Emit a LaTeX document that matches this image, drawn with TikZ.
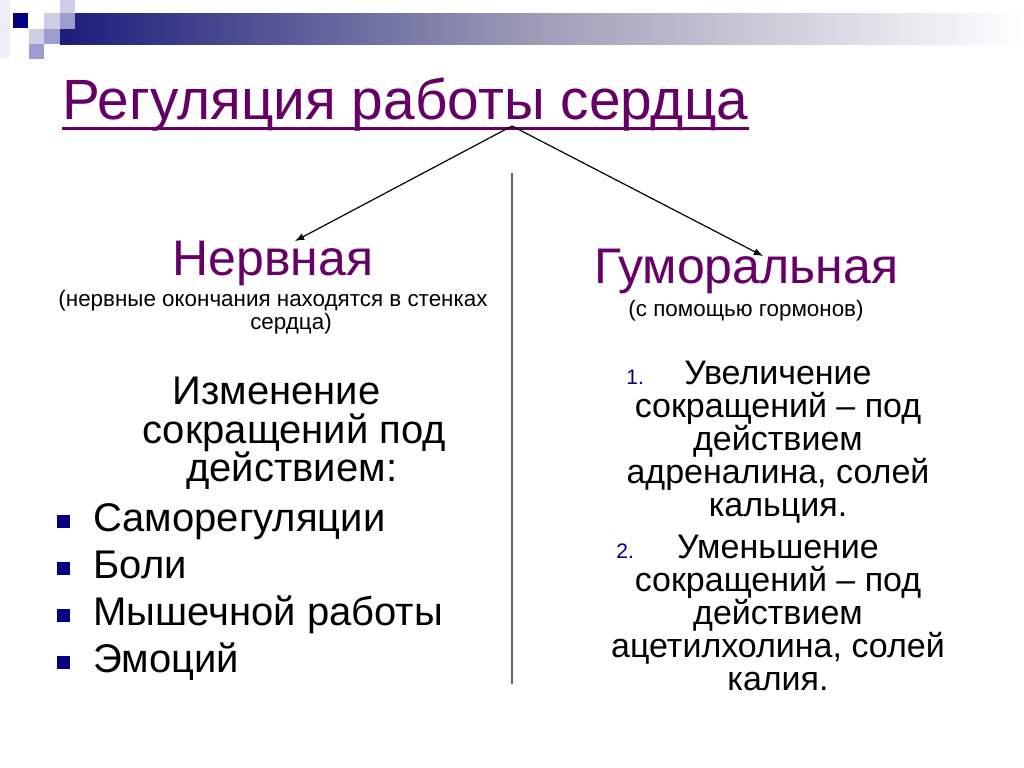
\documentclass[tikz,border=0pt]{standalone}
\usepackage{fontspec}
\setmainfont{Liberation Sans}
\usepackage{xcolor}
\usetikzlibrary{positioning}

\definecolor{titlepurple}{HTML}{660066}
\definecolor{bulletnavy}{HTML}{000080}
\definecolor{barnavy}{HTML}{1C1C7C}
\definecolor{barmid}{HTML}{9E9EB8}
\definecolor{lilaclight}{HTML}{CDCDE8}
\definecolor{lilacmid}{HTML}{9C9CCE}
\definecolor{lilacfaint}{HTML}{EEEEF7}
\definecolor{rulegrey}{HTML}{666666}

\begin{document}
\begin{tikzpicture}[x=0.5pt,y=-0.5pt,
  every node/.style={inner sep=0pt},
  heading/.style={text=titlepurple,font=\fontsize{25}{30}\selectfont},
  note/.style={font=\fontsize{11.2}{11}\selectfont},
  body/.style={font=\fontsize{20}{19.5}\selectfont},
  numbody/.style={font=\fontsize{17}{16.5}\selectfont,align=center},
  numlabel/.style={text=bulletnavy,font=\fontsize{10.5}{12}\selectfont},
  bulletsq/.style={fill=bulletnavy,minimum size=6.5pt}]
\useasboundingbox (0,0) rectangle (1024,767);

% header strip
\fill[lilacfaint] (0,0) rectangle (10,58);
\shade[left color=barnavy,right color=white,middle color=barmid] (60,13) rectangle (1024,44);
\fill[bulletnavy] (13,13) rectangle (28,28);
\fill[lilaclight] (44,13) rectangle (60,29);
\fill[lilaclight] (60,0) rectangle (75,13);
\fill[lilacmid] (60,13) rectangle (75,29);
\fill[lilaclight] (29,29) rectangle (44,44);
\fill[lilacmid] (44,29) rectangle (60,44);
\fill[lilacmid] (29,44) rectangle (44,59);

% title
\node[anchor=base west,text=titlepurple,font=\fontsize{28.4}{32}\selectfont]
  (title) at (62,119) {Регуляция работы сердца};
\draw[titlepurple,line width=1.5pt] ([yshift=-4.5pt]title.base west) -- ([yshift=-4.5pt]title.base east);

% split and divider
\coordinate (split) at (512,126);
\draw[rulegrey,line width=1pt] (512,173) -- (512,684);

% left column
\node[heading,anchor=base west] (nerve) at (172,275) {Нервная};
\node[note,anchor=base] (nervenote) at (273,306) {(нервные окончания находятся в стенках};
\node[note,anchor=base] (nervenote2) at (291,329) {сердца)};
\node[body,anchor=base west] (chg1) at (172,404) {Изменение};
\node[body,anchor=base west] (chg2) at (142,443) {сокращений под};
\node[body,anchor=base west] (chg3) at (186,481) {действием:};

\foreach \txt/\yy [count=\i] in {Саморегуляции/531,Боли/578,Мышечной работы/625,Эмоций/672}{
  \node[bulletsq] (sq\i) at (63,\yy-10) {};
  \node[body,anchor=base west] (item\i) at (93,\yy) {\txt};
}

% right column
\node[heading,anchor=base west] (humor) at (594,283) {Гуморальная};
\node[note,anchor=base] (humornote) at (746,316) {(с помощью гормонов)};

\node[numbody,anchor=north] (incr) at (778,361)
  {Увеличение\\сокращений – под\\действием\\адреналина, солей\\кальция.};
\node[numlabel,anchor=base west] (num1) at (626,384) {1.};
\node[numbody,anchor=north] (decr) at (778,535)
  {Уменьшение\\сокращений – под\\действием\\ацетилхолина, солей\\калия.};
\node[numlabel,anchor=base west] (num2) at (616,558) {2.};

% arrows
\coordinate (nervetip) at (295,241);
\coordinate (humortip) at (763,256);
\draw[-latex,line width=0.6pt] (split) -- (nervetip);
\draw[-latex,line width=0.6pt] (split) -- (humortip);
\end{tikzpicture}
\end{document}
